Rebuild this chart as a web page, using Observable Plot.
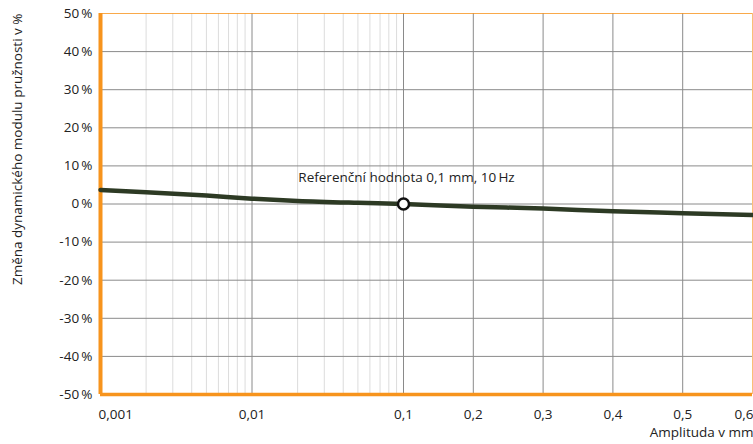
<!DOCTYPE html>
<html>
<head>
<meta charset="utf-8">
<script src="https://cdn.jsdelivr.net/npm/d3@7"></script>
<script src="https://cdn.jsdelivr.net/npm/@observablehq/plot@0.6"></script>
<style>
  html, body { margin: 0; padding: 0; background: #fff; }
  #chart { width: 753px; height: 444px; }
</style>
</head>
<body>
<div id="chart"></div>
<script>
// ---- data ----
const amplitude = [0.001, 0.002, 0.005, 0.01, 0.02, 0.05, 0.1, 0.2, 0.3, 0.4, 0.5, 0.6];
const modulusChange = [3.7, 3.1, 2.2, 1.4, 0.8, 0.3, 0, -0.7, -1.2, -1.9, -2.4, -2.9];
const xTickValues = [0.001, 0.01, 0.1, 0.2, 0.3, 0.4, 0.5, 0.6];
const xTickLabels = ["0,001", "0,01", "0,1", "0,2", "0,3", "0,4", "0,5", "0,6"];
const xMinorGrid = [0.002, 0.003, 0.004, 0.005, 0.006, 0.007, 0.008, 0.009,
                    0.02, 0.03, 0.04, 0.05, 0.06, 0.07, 0.08, 0.09];
const yTickValues = [-50, -40, -30, -20, -10, 0, 10, 20, 30, 40, 50];
const yTickLabels = ["-50\u2009%", "-40\u2009%", "-30\u2009%", "-20\u2009%", "-10\u2009%", "0\u2009%",
                     "10\u2009%", "20\u2009%", "30\u2009%", "40\u2009%", "50\u2009%"];
const reference = {amplitude: 0.1, change: 0, label: "Referenční hodnota 0,1 mm, 10\u2009Hz"};
const xTitle = "Amplituda v mm";
const yTitle = "Změna dynamického modulu pružnosti v %";

// ---- axis mapping: logarithmic up to 0.1 mm, linear above ----
const linearDecadesPer01 = 0.4607;
function ampPos(a) {
  return a <= 0.1 ? Math.log10(a) + 3 : 2 + (a - 0.1) * 10 * linearDecadesPer01;
}
const xMax = ampPos(0.6);

const series = amplitude.map((a, i) => ({a, v: modulusChange[i]}));
const xTicks = xTickValues.map((v, i) => ({v, label: xTickLabels[i]}));
const yTicks = yTickValues.map((v, i) => ({v, label: yTickLabels[i]}));

const orange = "#f7941d";
const font = "'Open Sans', sans-serif";
const fs = 13.5;

const chart = Plot.plot({
  width: 753,
  height: 444,
  marginLeft: 100,
  marginRight: 1,
  marginTop: 13,
  marginBottom: 50,
  style: {fontFamily: font, fontSize: fs + "px", color: "#222", background: "#fff"},
  x: {domain: [0, xMax], axis: null},
  y: {domain: [-50, 50], axis: null},
  marks: [
    // minor vertical grid
    Plot.ruleX(xMinorGrid, {x: d => ampPos(d), stroke: "#dcdcdc", strokeWidth: 1}),
    // major vertical grid
    Plot.ruleX(xTickValues.slice(1, -1), {x: d => ampPos(d), stroke: "#8a8a8a", strokeWidth: 1}),
    // horizontal grid
    Plot.ruleY(yTickValues.slice(1, -1), {stroke: "#8a8a8a", strokeWidth: 1}),
    // frame
    Plot.ruleY([50], {stroke: orange, strokeWidth: 1.2, strokeOpacity: 0.8}),
    Plot.ruleX([xMax], {stroke: orange, strokeWidth: 1, strokeOpacity: 0.6}),
    Plot.ruleX([0], {stroke: orange, strokeWidth: 4}),
    Plot.ruleY([-50], {stroke: orange, strokeWidth: 3.5}),
    // curve
    Plot.line(series, {x: d => ampPos(d.a), y: "v", stroke: "#2d3a24", strokeWidth: 4.5, curve: "monotone-x"}),
    // reference point
    Plot.dot([reference], {x: d => ampPos(d.amplitude), y: "change", r: 5.5, fill: "#fff", stroke: "#111", strokeWidth: 2.5}),
    Plot.text([reference], {x: d => ampPos(d.amplitude), y: "change", text: "label", dx: 3, dy: -26, fontSize: fs, fill: "#222"}),
    // y tick labels
    Plot.text(yTicks, {x: 0, y: "v", text: "label", textAnchor: "end", dx: -8, fill: "#222", fontSize: fs}),
    // x tick labels
    Plot.text(xTicks.slice(0, 1), {x: d => ampPos(d.v), y: -50, text: "label", textAnchor: "start", dx: -2, dy: 20, fill: "#222", fontSize: fs}),
    Plot.text(xTicks.slice(1, -1), {x: d => ampPos(d.v), y: -50, text: "label", textAnchor: "middle", dy: 20, fill: "#222", fontSize: fs}),
    Plot.text(xTicks.slice(-1), {x: d => ampPos(d.v), y: -50, text: "label", textAnchor: "end", dx: 1, dy: 20, fill: "#222", fontSize: fs}),
    // axis titles
    Plot.text([xTitle], {frameAnchor: "bottom-right", text: d => d, textAnchor: "end", dy: 42, dx: 1, fill: "#222", fontSize: fs}),
    Plot.text([yTitle], {frameAnchor: "top-left", text: d => d, rotate: -90, textAnchor: "end", dx: -88, dy: 0, fill: "#222", fontSize: fs})
  ]
});
document.getElementById("chart").appendChild(chart);
</script>
</body>
</html>
